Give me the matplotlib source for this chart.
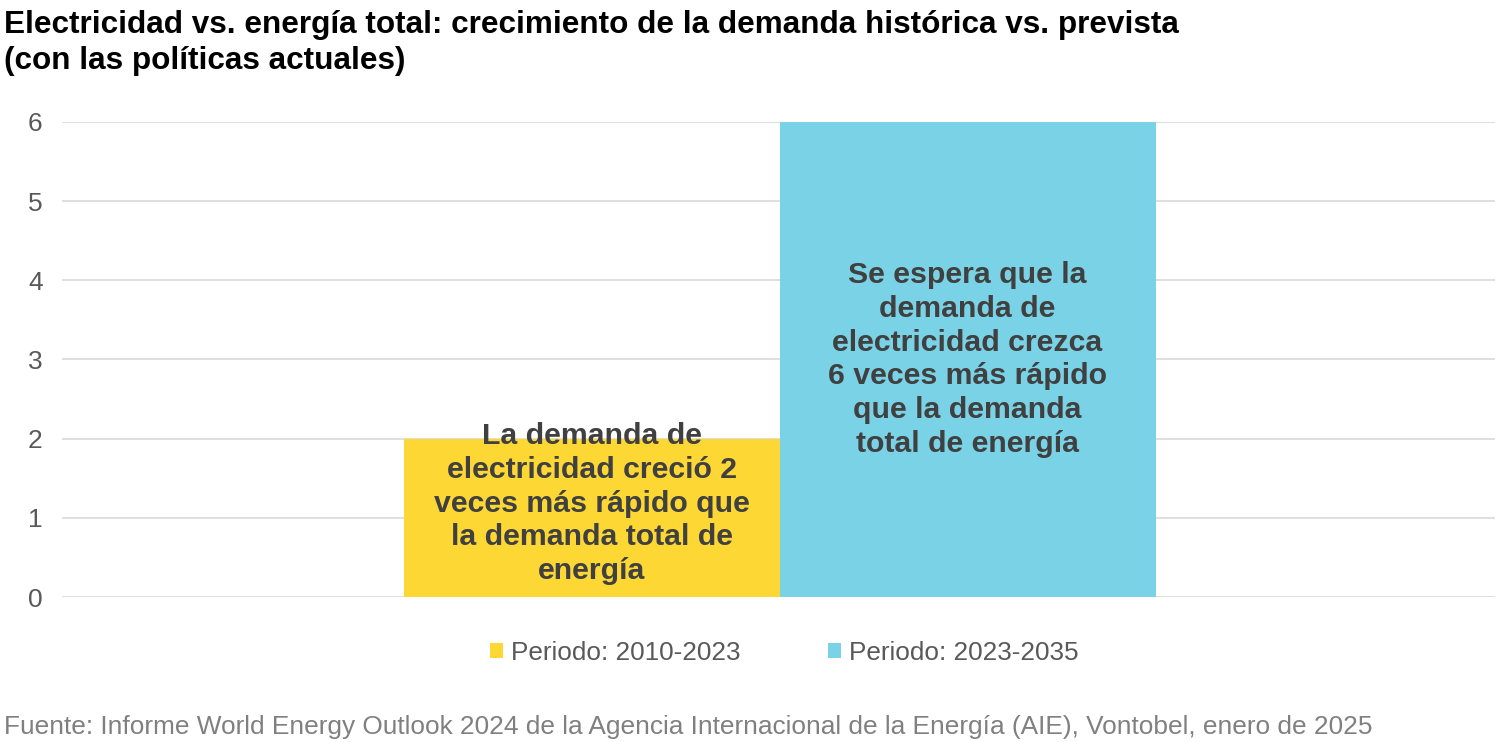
import matplotlib.pyplot as plt

plt.rcParams['font.family'] = ['Liberation Sans', 'DejaVu Sans']

# datos
periods = ['Periodo: 2010-2023', 'Periodo: 2023-2035']
values = [2, 6]
notes = ['La demanda de\nelectricidad creció 2\nveces más rápido que\nla demanda total de\nenergía',
         'Se espera que la\ndemanda de\nelectricidad crezca\n6 veces más rápido\nque la demanda\ntotal de energía']
note_y = [1.18, 3.0]
y_ticks = [0, 1, 2, 3, 4, 5, 6]

colors = ['#FDD835', '#79D2E6']
text_dark = '#404040'
grey = '#595959'

fig = plt.figure(figsize=(15, 7.42), dpi=100)
ax = fig.add_axes([0.0413, 0.1954, 0.9554, 0.6402])

xpos = [-0.5, 0.5]
for x, v, c, lab in zip(xpos, values, colors, periods):
    ax.bar(x, v, width=1.0, color=c, label=lab, zorder=2)

for x, t, y in zip(xpos, notes, note_y):
    ax.text(x, y, t, ha='center', va='center', fontsize=21.8, fontweight='bold',
            color=text_dark, linespacing=1.26, zorder=3)

ax.set_xlim(-1.909, 1.903)
ax.set_ylim(0, 6)
ax.set_yticks(y_ticks)
ax.set_xticks([])
ax.yaxis.grid(True, color='#D9D9D9', linewidth=1.2, zorder=0)
ax.set_axisbelow(True)
for s in ax.spines.values():
    s.set_visible(False)
ax.tick_params(axis='y', length=0, pad=14, labelsize=19, labelcolor=grey)

leg = ax.legend(loc='center', bbox_to_anchor=(0.504, -0.118), ncol=2, frameon=False,
                fontsize=18.8, handlelength=0.5, handleheight=0.5, handletextpad=0.3,
                columnspacing=3.35, labelcolor=grey)

fig.text(0.003, 0.986, 'Electricidad vs. energía total: crecimiento de la demanda histórica vs. prevista\n(con las políticas actuales)',
         ha='left', va='top', fontsize=22.7, fontweight='bold', color='black', linespacing=1.25)
fig.text(0.003, 0.004, 'Fuente: Informe World Energy Outlook 2024 de la Agencia Internacional de la Energía (AIE), Vontobel, enero de 2025',
         ha='left', va='bottom', fontsize=18.9, color='#808080')

fig.savefig('out.png', dpi=100, facecolor='white')
